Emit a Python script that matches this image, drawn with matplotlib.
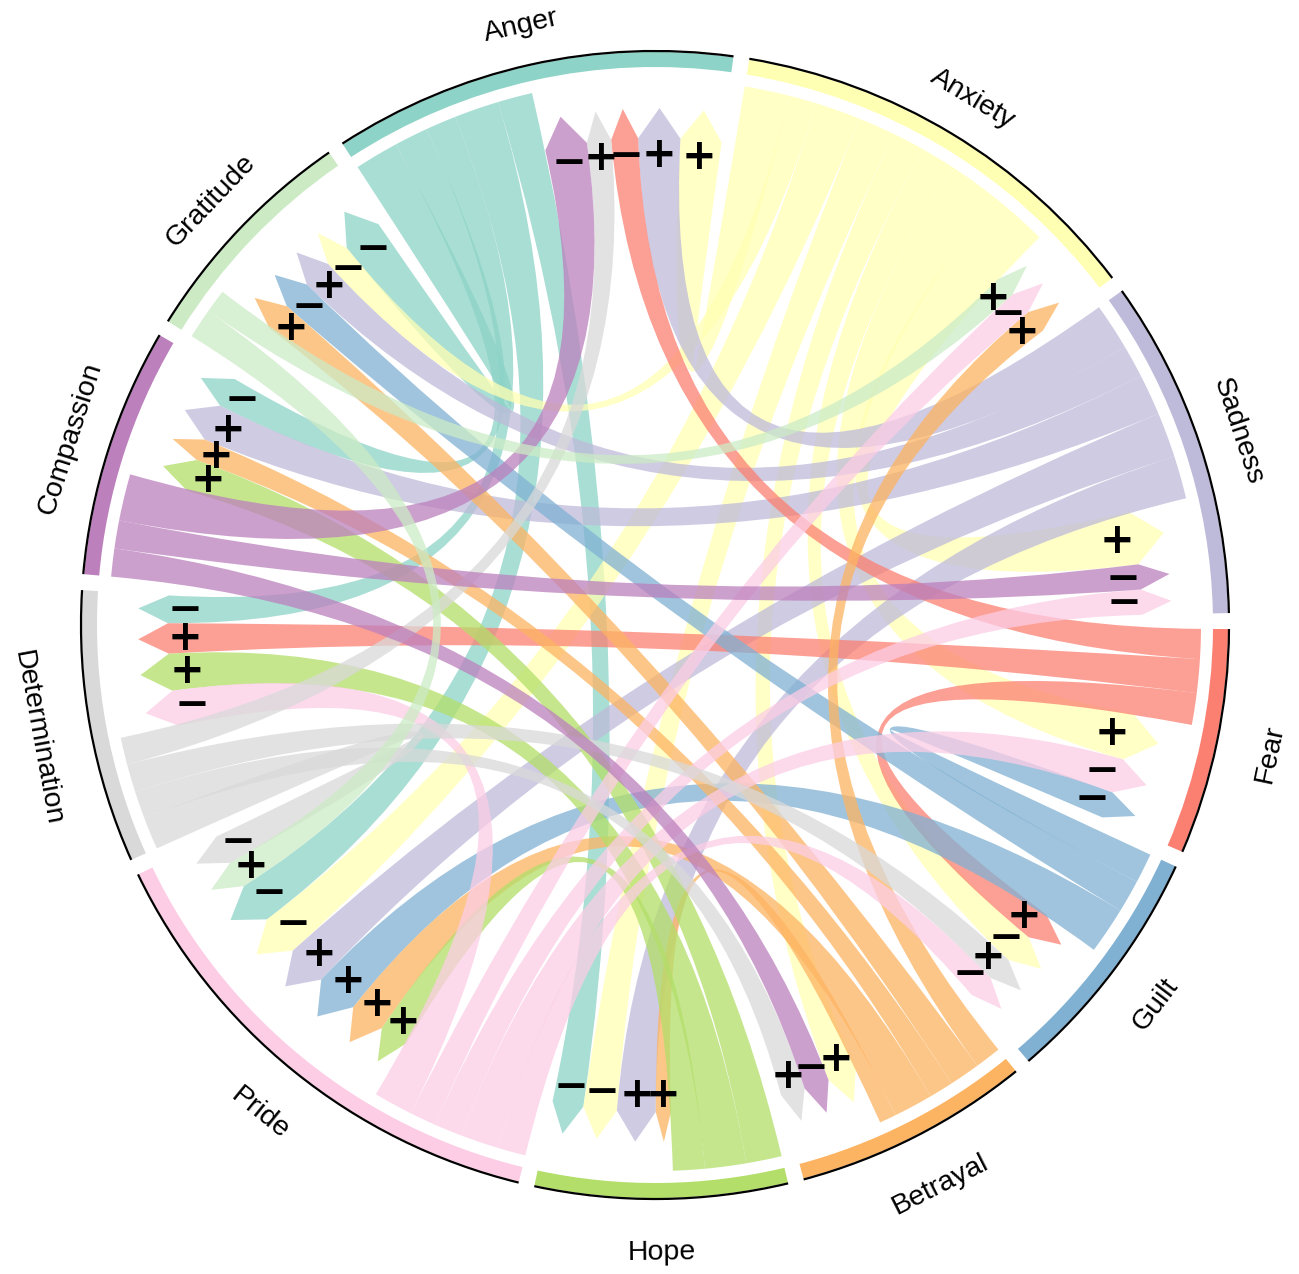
import numpy as np
import matplotlib.pyplot as plt
import matplotlib.patches as mpatches
from matplotlib.path import Path

# sectors, clockwise from the top
sectors = ["Anger", "Anxiety", "Sadness", "Fear", "Guilt", "Betrayal",
           "Hope", "Pride", "Determination", "Compassion", "Gratitude"]
colors = ["#8dd3c7", "#ffffb3", "#bebada", "#fb8072", "#80b1d3", "#fdb462",
          "#b3de69", "#fccde5", "#d9d9d9", "#bc80bd", "#ccebc5"]

# directed links: source -> target, width, sign
src = ["Anger", "Anger", "Anger", "Anger", "Anger",
       "Anxiety", "Anxiety", "Anxiety", "Anxiety", "Anxiety", "Anxiety", "Anxiety", "Anxiety",
       "Sadness", "Sadness", "Sadness", "Sadness", "Sadness",
       "Fear", "Fear", "Fear",
       "Guilt", "Guilt", "Guilt",
       "Betrayal", "Betrayal", "Betrayal", "Betrayal", "Betrayal",
       "Hope", "Hope", "Hope",
       "Pride", "Pride", "Pride", "Pride", "Pride",
       "Determination", "Determination", "Determination", "Determination",
       "Compassion", "Compassion", "Compassion",
       "Gratitude", "Gratitude"]
tgt = ["Hope", "Pride", "Determination", "Compassion", "Gratitude",
       "Anger", "Sadness", "Fear", "Guilt", "Betrayal", "Hope", "Pride", "Gratitude",
       "Anger", "Hope", "Pride", "Compassion", "Gratitude",
       "Anger", "Guilt", "Determination",
       "Fear", "Pride", "Gratitude",
       "Anxiety", "Hope", "Pride", "Compassion", "Gratitude",
       "Pride", "Determination", "Compassion",
       "Anxiety", "Sadness", "Fear", "Guilt", "Determination",
       "Anger", "Guilt", "Betrayal", "Pride",
       "Anger", "Sadness", "Betrayal",
       "Anxiety", "Pride"]
val = [3.7, 4.8, 3.3, 3.6, 4.7,
       4.9, 6.3, 5.5, 3.6, 3.5, 4.0, 4.8, 2.9,
       5.0, 4.6, 4.8, 4.4, 3.5,
       3.2, 3.4, 3.6,
       3.2, 5.0, 3.5,
       2.8, 1.8, 4.2, 2.6, 3.3,
       3.4, 4.4, 3.8,
       2.8, 3.0, 4.1, 3.0, 4.2,
       2.9, 3.0, 2.9, 3.5,
       5.0, 3.0, 3.0,
       2.5, 3.2]
sign = ["−", "−", "−", "−", "−",
        "+", "+", "+", "−", "+", "−", "−", "−",
        "+", "+", "+", "+", "+",
        "−", "+", "+",
        "−", "+", "−",
        "+", "+", "+", "+", "+",
        "+", "+", "+",
        "−", "−", "−", "−", "−",
        "+", "+", "+", "−",
        "−", "−", "−",
        "+", "+"]

n = len(sectors)
idx = {s: i for i, s in enumerate(sectors)}
GAP = 1.6
START = 123.0
R_SRC, R_TIP, R_SH = 546, 517, 487
R_ARC_IN, R_ARC_OUT = 558, 573
R_SIGN = 470


def pol(r, deg):
    a = np.deg2rad(deg)
    return r * np.cos(a), r * np.sin(a)


totals = np.zeros(n)
for s, t, v in zip(src, tgt, val):
    totals[idx[s]] += v
    totals[idx[t]] += v
scale = (360 - n * GAP) / totals.sum()

# sector angular ranges (clockwise, angles decrease)
sec_start = []
a = START
for i in range(n):
    sec_start.append(a)
    a -= totals[i] * scale + GAP

# place link ends inside every sector: outgoing first, then incoming
out_rng = {}
in_rng = {}
for i, s in enumerate(sectors):
    a = sec_start[i]
    outs = [k for k in range(len(src)) if src[k] == s]
    outs.sort(key=lambda k: -((idx[tgt[k]] - i) % n))
    for k in outs:
        w = val[k] * scale
        out_rng[k] = (a, a - w)
        a -= w
    ins = [k for k in range(len(src)) if tgt[k] == s]
    ins.sort(key=lambda k: -((idx[src[k]] - i) % n))
    for k in ins:
        w = val[k] * scale
        in_rng[k] = (a, a - w)
        a -= w

fig = plt.figure(figsize=(12.99, 12.74), dpi=100)
ax = fig.add_axes([0, 0, 1, 1])
ax.set_xlim(-655, 644)
ax.set_ylim(-649, 625)
ax.axis("off")

# outer arcs and labels
for i, s in enumerate(sectors):
    a0 = sec_start[i]
    a1 = a0 - totals[i] * scale
    ax.add_patch(mpatches.Wedge((0, 0), R_ARC_OUT, a1, a0, width=R_ARC_OUT - R_ARC_IN,
                                facecolor=colors[i], edgecolor="none"))
    ax.add_patch(mpatches.Arc((0, 0), 2 * (R_ARC_OUT + 1), 2 * (R_ARC_OUT + 1),
                              theta1=a1, theta2=a0, color="black", lw=1.6))
    mid = (a0 + a1) / 2
    rot = (mid - 90 + 180) % 360 - 180
    r_lab = 614
    if rot > 90 or rot < -90:
        rot = rot - 180 if rot > 0 else rot + 180
        r_lab = 628
    x, y = pol(r_lab, mid)
    ax.text(x, y, s, rotation=rot, ha="center", va="center", fontsize=20.5,
            family=["Liberation Sans", "DejaVu Sans"], rotation_mode="anchor")

# chords with arrow heads at the target
for k in range(len(src)):
    a1, a2 = out_rng[k]
    b1, b2 = in_rng[k]
    verts, codes = [], []
    for j, ang in enumerate(np.linspace(a1, a2, 30)):
        verts.append(pol(R_SRC, ang))
        codes.append(Path.MOVETO if j == 0 else Path.LINETO)
    verts += [(0, 0), pol(R_SH, b1)]
    codes += [Path.CURVE3, Path.CURVE3]
    verts += [pol(R_TIP, (b1 + b2) / 2), pol(R_SH, b2)]
    codes += [Path.LINETO, Path.LINETO]
    verts += [(0, 0), pol(R_SRC, a1)]
    codes += [Path.CURVE3, Path.CURVE3]
    verts.append(pol(R_SRC, a1))
    codes.append(Path.CLOSEPOLY)
    c = colors[idx[src[k]]]
    ax.add_patch(mpatches.PathPatch(Path(verts, codes), facecolor=c,
                                    edgecolor="none", alpha=0.75))

# signs on the arrow heads
for k in range(len(src)):
    b1, b2 = in_rng[k]
    x, y = pol(R_SIGN, (b1 + b2) / 2)
    ax.text(x, y, sign[k], ha="center", va="center", fontsize=30,
            fontweight="bold", color="black", zorder=5)

plt.savefig("out.png", dpi=100)
